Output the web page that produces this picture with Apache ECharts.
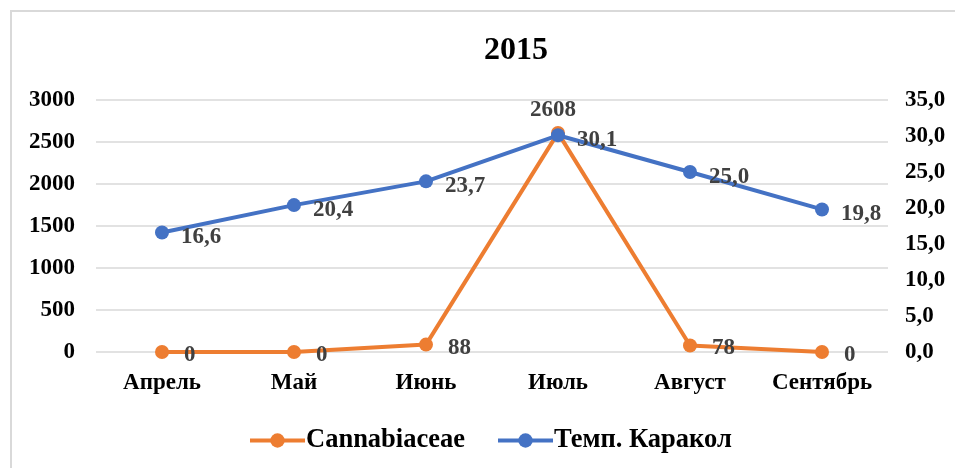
<!DOCTYPE html>
<html><head><meta charset="utf-8">
<script src="https://cdn.jsdelivr.net/npm/echarts@6/dist/echarts.min.js"></script>
<style>html,body{margin:0;padding:0;background:#fff}#c{width:955px;height:468px}</style>
</head><body><div id="c"></div>
<script>
const titleText = '2015';
const categories = ['Апрель', 'Май', 'Июнь', 'Июль', 'Август', 'Сентябрь'];
const pollenName = 'Cannabiaceae';
const pollenValues = [0, 0, 88, 2608, 78, 0];
const tempName = 'Темп. Каракол';
const tempValues = [16.6, 20.4, 23.7, 30.1, 25.0, 19.8];

const FONT = '"Liberation Serif", "Times New Roman", serif';
const chart = echarts.init(document.getElementById('c'), null, {renderer: 'canvas'});
const fmt1 = v => v.toFixed(1).replace('.', ',');
const pd = pollenValues.map((v, i) => i === 3 ? {value: v, label: {position: 'top', distance: 4, offset: [-5, 0]}} : v);
chart.setOption({
  animation: false,
  backgroundColor: '#fff',
  graphic: [{type: 'rect', shape: {x: 11, y: 11, width: 970, height: 480}, style: {fill: 'none', stroke: '#d9d9d9', lineWidth: 2}, silent: true}],
  title: {text: titleText, left: 484, top: 35, padding: 0,
    textStyle: {fontFamily: FONT, fontWeight: 'bold', fontSize: 32, color: '#000'}},
  grid: {left: 96, right: 67, top: 100, bottom: 116, containLabel: false},
  legend: {left: 243, top: 422, itemWidth: 55, itemHeight: 18, itemGap: 31,
    lineStyle: {width: 4},
    textStyle: {fontFamily: FONT, fontWeight: 'bold', fontSize: 26.5, color: '#000', padding: [0,0,0,-4]},
    data: [pollenName, tempName]},
  xAxis: {type: 'category', data: categories, boundaryGap: true,
    axisLine: {show: false}, axisTick: {show: false},
    axisLabel: {fontFamily: FONT, fontWeight: 'bold', fontSize: 23, color: '#000', margin: 20}},
  yAxis: [
    {type: 'value', min: 0, max: 3000, interval: 500,
      axisLine: {show: false}, axisTick: {show: false},
      splitLine: {lineStyle: {color: '#d9d9d9', width: 1.5}},
      axisLabel: {fontFamily: FONT, fontWeight: 'bold', fontSize: 23, color: '#000', margin: 21, formatter: v => String(v)}},
    {type: 'value', min: 0, max: 35, interval: 5, position: 'right',
      axisLine: {show: false}, axisTick: {show: false}, splitLine: {show: false},
      axisLabel: {fontFamily: FONT, fontWeight: 'bold', fontSize: 23, color: '#000', margin: 17, formatter: fmt1}}
  ],
  series: [
    {name: pollenName, type: 'line', yAxisIndex: 0, data: pd,
      color: '#ed7d31', symbol: 'circle', symbolSize: 14,
      lineStyle: {width: 4, color: '#ed7d31'}, itemStyle: {color: '#ed7d31'},
      label: {show: true, position: 'right', distance: 15, offset: [0, 3],
        fontFamily: FONT, fontWeight: 'bold', fontSize: 23, color: '#404040'},
      z: 2},
    {name: tempName, type: 'line', yAxisIndex: 1, data: tempValues,
      color: '#4472c4', symbol: 'circle', symbolSize: 14,
      lineStyle: {width: 4, color: '#4472c4'}, itemStyle: {color: '#4472c4'},
      label: {show: true, position: 'right', distance: 12, offset: [0, 5],
        fontFamily: FONT, fontWeight: 'bold', fontSize: 23, color: '#404040',
        formatter: p => fmt1(p.value)},
      z: 3}
  ]
});
</script>
</body></html>
